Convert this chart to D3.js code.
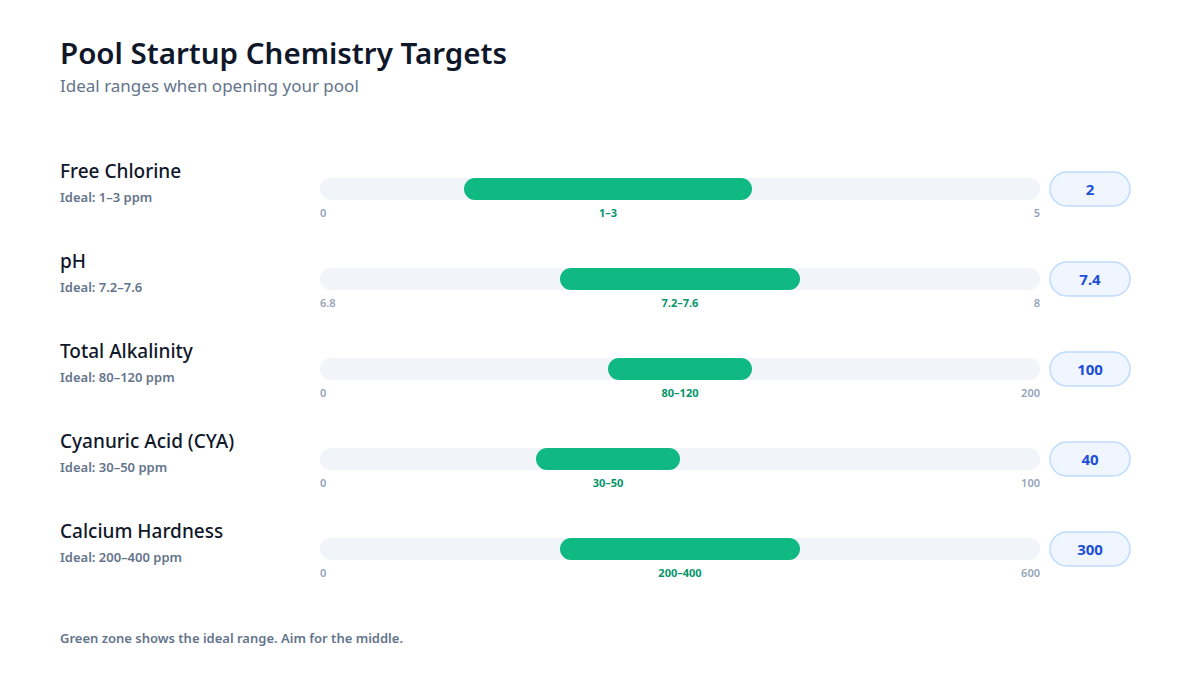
<!DOCTYPE html>
<html>
<head>
<meta charset="utf-8">
<script src="https://cdn.jsdelivr.net/npm/d3@7"></script>
<style>
  html, body { margin: 0; padding: 0; background: #ffffff; }
  svg { display: block; font-family: "Noto Sans", "Open Sans", sans-serif; }
</style>
</head>
<body>
<svg id="chart" width="1200" height="675"></svg>
<script>
// data
const names   = ["Free Chlorine", "pH", "Total Alkalinity", "Cyanuric Acid (CYA)", "Calcium Hardness"];
const idealTx = ["Ideal: 1–3 ppm", "Ideal: 7.2–7.6", "Ideal: 80–120 ppm", "Ideal: 30–50 ppm", "Ideal: 200–400 ppm"];
const scaleMin = [0, 6.8, 0, 0, 0];
const scaleMax = [5, 8, 200, 100, 600];
const idealLo  = [1, 7.2, 80, 30, 200];
const idealHi  = [3, 7.6, 120, 50, 400];
const targets  = [2, 7.4, 100, 40, 300];

const rows = names.map((n, i) => ({
  name: n, ideal: idealTx[i],
  min: scaleMin[i], max: scaleMax[i],
  lo: idealLo[i], hi: idealHi[i], target: targets[i]
}));

const W = 1200, H = 675;
const svg = d3.select("#chart").attr("viewBox", `0 0 ${W} ${H}`);

svg.append("rect").attr("width", W).attr("height", H).attr("fill", "#ffffff");

// title
svg.append("text")
  .attr("x", 60).attr("y", 64)
  .attr("font-size", 29.5).attr("font-weight", 600).attr("fill", "#0f172a")
  .text("Pool Startup Chemistry Targets");

svg.append("text")
  .attr("x", 60).attr("y", 92)
  .attr("font-size", 17).attr("fill", "#64748b")
  .text("Ideal ranges when opening your pool");

const trackX0 = 320, trackX1 = 1040, trackH = 22;
const rowY = d3.scaleBand()
  .domain(d3.range(rows.length))
  .range([144, 594]);

const row = svg.selectAll(".row")
  .data(rows).enter().append("g")
  .attr("class", "row")
  .attr("transform", (d, i) => `translate(0,${rowY(i) + rowY.bandwidth() / 2})`);

// labels on the left
row.append("text")
  .attr("x", 60).attr("y", -11)
  .attr("font-size", 19).attr("font-weight", 500).attr("fill", "#0f172a")
  .text(d => d.name);

row.append("text")
  .attr("x", 60).attr("y", 13)
  .attr("font-size", 13).attr("font-weight", 600).attr("fill", "#64748b")
  .text(d => d.ideal);

row.each(function(d) {
  const g = d3.select(this);
  const x = d3.scaleLinear().domain([d.min, d.max]).range([trackX0, trackX1]);

  // track
  g.append("rect")
    .attr("x", x(d.min)).attr("y", -trackH / 2)
    .attr("width", x(d.max) - x(d.min)).attr("height", trackH)
    .attr("rx", trackH / 2).attr("fill", "#f1f5f9");

  // ideal zone
  g.append("rect")
    .attr("x", x(d.lo)).attr("y", -trackH / 2)
    .attr("width", x(d.hi) - x(d.lo)).attr("height", trackH)
    .attr("rx", trackH / 2).attr("fill", "#10b981");

  // ends
  g.append("text")
    .attr("x", x(d.min)).attr("y", 28)
    .attr("font-size", 11).attr("font-weight", 600).attr("fill", "#94a3b8")
    .text(d.min);
  g.append("text")
    .attr("x", x(d.max)).attr("y", 28).attr("text-anchor", "end")
    .attr("font-size", 11).attr("font-weight", 600).attr("fill", "#94a3b8")
    .text(d.max);

  // range label
  g.append("text")
    .attr("x", (x(d.lo) + x(d.hi)) / 2).attr("y", 28).attr("text-anchor", "middle")
    .attr("font-size", 11).attr("font-weight", 700).attr("fill", "#059669")
    .text(`${d.lo}–${d.hi}`);

  // target pill
  g.append("rect")
    .attr("x", 1050).attr("y", -17)
    .attr("width", 80).attr("height", 34).attr("rx", 17)
    .attr("fill", "#eff6ff").attr("stroke", "#bfdbfe").attr("stroke-width", 1.5);
  g.append("text")
    .attr("x", 1090).attr("y", 5.5).attr("text-anchor", "middle")
    .attr("font-size", 15).attr("font-weight", 700).attr("fill", "#1d4ed8")
    .text(d.target);
});

// footer
svg.append("text")
  .attr("x", 60).attr("y", 643)
  .attr("font-size", 13).attr("font-weight", 600).attr("fill", "#64748b")
  .text("Green zone shows the ideal range. Aim for the middle.");
</script>
</body>
</html>
